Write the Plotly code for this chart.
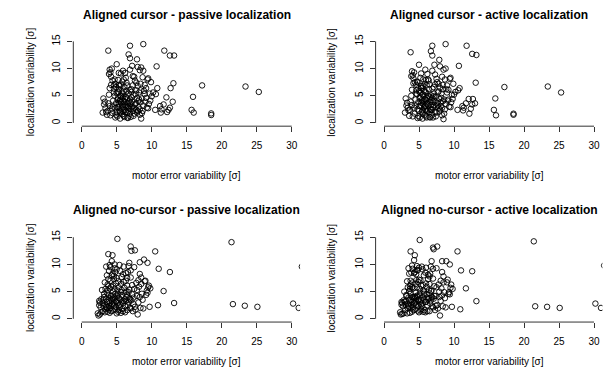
import plotly.graph_objects as go

# ---------------- data ----------------
# Aligned cursor: motor error variability (shared by passive & active panels)
cursor_motor = [
    3.8, 6.9, 8.8, 11.8, 12.6, 13.2, 10.7, 6.7, 6.9, 7.9,
    5.0, 13.1, 12.7, 10.8, 12.1, 13.0, 12.6, 12.4, 11.7, 11.4,
    11.3, 10.5, 11.2, 17.2, 15.9, 15.7, 16.0, 18.5, 18.5, 23.4,
    25.3, 12.2, 10.2, 10.6, 9.7, 9.5, 9.4, 9.0, 9.9, 8.5,
    8.0, 8.3, 7.2, 4.0, 4.3, 4.1, 3.9, 5.3, 5.6, 5.9,
    6.2, 6.9, 7.5, 8.8, 3.1, 3.2, 3.0, 3.4, 3.6, 3.3,
    3.7, 3.9, 4.0, 4.2, 4.4, 4.5, 4.6, 4.8, 4.9, 5.0,
    5.1, 5.2, 5.3, 5.4, 5.5, 5.5, 5.6, 5.7, 5.8, 5.9,
    6.0, 6.0, 6.1, 6.2, 6.3, 6.4, 6.5, 6.6, 6.7, 6.8,
    6.9, 7.0, 7.1, 7.2, 7.3, 7.4, 7.5, 7.6, 7.7, 7.8,
    7.9, 8.0, 8.1, 8.2, 8.3, 8.4, 8.5, 8.6, 8.7, 8.9,
    9.1, 9.2, 9.3, 9.6, 9.8, 10.0, 4.7, 5.2, 5.8, 6.3,
    5.0, 5.3, 5.5, 5.7, 5.9, 6.1, 6.3, 6.5, 6.7, 6.9,
    5.2, 5.4, 5.6, 5.8, 6.0, 6.2, 6.4, 6.6, 6.8, 7.0,
    4.5, 4.7, 4.9, 5.1, 5.3, 5.5, 5.7, 5.9, 6.1, 6.3,
    3.5, 3.8, 4.1, 4.3, 4.6, 4.8, 5.1, 5.4, 5.6, 5.9,
    6.5, 6.7, 6.9, 7.1, 7.3, 7.5, 7.7, 7.9, 8.1, 8.3,
    7.0, 7.2, 7.4, 7.6, 7.8, 8.0, 8.2, 8.4, 8.6, 8.8,
    4.0, 4.2, 4.4, 4.6, 4.9, 5.3, 6.0, 6.5, 7.3, 7.8,
    8.4, 8.7, 9.0, 9.2, 9.5, 4.8, 5.5, 6.1, 6.6, 7.1,
]
cursor_passive = [
    13.3, 14.2, 14.5, 13.3, 12.4, 12.4, 10.4, 12.6, 11.9, 11.7,
    10.8, 7.3, 6.4, 6.4, 4.7, 3.9, 2.8, 2.4, 3.4, 2.5,
    1.9, 2.4, 3.1, 6.9, 4.8, 2.4, 1.9, 1.75, 1.45, 6.7,
    5.7, 2.0, 5.6, 5.3, 5.4, 8.2, 8.0, 7.0, 7.5, 10.2,
    10.3, 9.7, 10.5, 9.8, 10.0, 9.3, 9.0, 9.2, 9.1, 9.6,
    9.2, 9.8, 8.5, 9.6, 4.5, 3.4, 1.9, 2.7, 1.5, 3.9,
    2.2, 5.2, 3.1, 7.0, 1.8, 4.1, 6.3, 2.7, 3.6, 5.5,
    1.2, 4.6, 3.0, 6.8, 2.1, 5.0, 3.8, 4.4, 1.6, 2.9,
    4.0, 5.9, 2.4, 3.3, 4.8, 7.4, 1.9, 3.7, 5.4, 2.6,
    4.3, 1.1, 6.2, 3.0, 2.2, 5.1, 1.7, 7.8, 3.5, 2.4,
    4.6, 6.8, 2.9, 5.6, 1.5, 3.8, 0.8, 4.5, 2.2, 5.9,
    3.9, 4.6, 2.8, 3.5, 4.1, 4.9, 8.0, 7.9, 7.6, 8.3,
    2.0, 3.5, 4.2, 2.6, 5.4, 3.8, 2.0, 4.5, 3.1, 6.0,
    5.7, 2.3, 4.9, 3.3, 1.3, 4.4, 5.8, 2.9, 4.0, 3.6,
    3.0, 5.0, 1.5, 4.3, 6.2, 1.9, 5.6, 4.7, 6.6, 3.0,
    2.0, 3.6, 1.4, 2.6, 5.6, 7.2, 2.9, 4.0, 7.0, 2.1,
    1.0, 2.2, 1.7, 4.7, 6.9, 2.8, 5.3, 1.9, 4.0, 2.5,
    2.6, 3.9, 1.3, 3.4, 6.0, 2.2, 4.3, 7.2, 1.8, 3.2,
    6.4, 8.5, 7.8, 6.9, 6.6, 7.0, 8.0, 6.9, 8.6, 7.4,
    6.0, 8.4, 5.3, 6.4, 2.7, 1.0, 0.8, 1.1, 0.9, 5.7,
]
cursor_active = [
    13.0, 14.2, 14.5, 14.2, 12.7, 12.5, 10.5, 13.2, 12.4, 11.6,
    10.7, 7.4, 4.4, 6.4, 4.4, 3.6, 3.4, 2.6, 3.6, 2.8,
    2.3, 2.4, 3.1, 6.6, 4.5, 2.4, 1.4, 1.7, 1.5, 6.7,
    5.6, 1.7, 5.7, 6.0, 5.2, 8.3, 8.1, 6.9, 7.2, 9.8,
    10.4, 8.5, 10.7, 9.5, 9.3, 8.8, 8.6, 9.1, 8.0, 9.8,
    9.0, 9.6, 8.1, 10.0, 4.5, 3.2, 1.9, 2.8, 1.3, 3.7,
    2.4, 5.0, 3.3, 7.3, 1.7, 4.3, 6.0, 2.5, 3.8, 5.8,
    1.0, 4.8, 3.2, 6.5, 2.3, 5.3, 3.5, 4.1, 1.5, 3.1,
    4.2, 5.6, 2.2, 3.5, 5.0, 7.8, 2.0, 3.9, 5.1, 2.4,
    4.6, 1.0, 6.6, 3.3, 2.0, 4.8, 1.9, 7.5, 3.2, 2.7,
    4.4, 6.5, 3.1, 5.4, 1.4, 4.0, 0.7, 4.3, 2.5, 6.2,
    4.1, 4.3, 3.0, 3.8, 4.4, 5.2, 7.6, 8.3, 7.2, 8.0,
    2.2, 3.7, 4.0, 2.8, 5.7, 3.6, 2.3, 4.7, 3.3, 6.3,
    5.5, 2.0, 5.2, 3.0, 1.2, 4.6, 6.2, 2.6, 4.3, 3.9,
    3.2, 5.3, 1.3, 4.5, 6.4, 1.7, 5.9, 4.4, 6.9, 3.2,
    2.3, 3.9, 1.2, 2.8, 5.4, 7.5, 3.1, 4.2, 6.8, 2.4,
    1.1, 2.4, 1.5, 4.9, 7.1, 3.0, 5.6, 2.1, 3.8, 2.8,
    2.9, 4.1, 1.2, 3.7, 5.8, 2.5, 4.6, 7.0, 1.7, 3.5,
    6.1, 8.2, 7.5, 7.0, 6.4, 6.8, 7.9, 7.1, 8.9, 7.2,
    6.2, 8.0, 5.6, 6.1, 2.9, 0.9, 0.8, 1.0, 1.0, 5.4,
]

# Aligned no-cursor: motor error variability (shared by passive & active panels)
nocursor_motor = [
    5.1, 7.0, 7.1, 7.6, 3.8, 4.4, 4.3, 10.5, 8.9, 9.4,
    8.3, 6.8, 11.0, 12.6, 8.3, 11.7, 13.2, 10.9, 9.7, 8.0,
    21.4, 21.6, 23.3, 25.1, 30.2, 31.0, 31.45, 2.6, 2.4, 2.5,
    9.1, 9.0, 9.3, 9.2, 9.5, 9.8, 9.4, 8.7, 8.5, 9.6,
    2.3, 2.5, 2.7, 2.8, 3.0, 2.9, 2.6, 3.1, 2.8, 3.2,
    3.3, 3.4, 3.5, 3.6, 3.7, 3.8, 3.9, 4.0, 4.1, 4.2,
    4.3, 4.4, 4.5, 4.6, 4.7, 4.8, 4.9, 5.0, 5.1, 5.2,
    5.3, 5.4, 5.5, 5.6, 5.7, 5.8, 5.9, 6.0, 6.1, 6.2,
    6.3, 6.4, 6.5, 6.6, 6.7, 6.8, 6.9, 7.0, 7.2, 7.4,
    7.5, 7.7, 7.9, 8.1, 8.2, 8.4, 8.6, 8.8, 7.8, 7.3,
    3.5, 3.7, 3.9, 4.1, 4.3, 4.5, 4.7, 4.9, 5.1, 5.3,
    3.4, 3.6, 3.8, 4.0, 4.2, 4.4, 4.6, 4.8, 5.0, 5.2,
    5.4, 5.6, 5.8, 6.0, 6.2, 6.4, 6.6, 6.8, 7.0, 7.2,
    3.0, 3.2, 3.4, 3.6, 3.8, 4.0, 4.2, 4.4, 4.6, 4.8,
    5.0, 5.2, 5.5, 5.7, 6.0, 6.3, 6.5, 6.7, 7.0, 7.5,
    3.9, 4.1, 4.4, 4.7, 5.0, 5.3, 5.6, 5.9, 6.2, 6.5,
    3.1, 3.3, 3.5, 3.7, 3.9, 4.1, 4.3, 4.5, 4.7, 4.9,
    5.1, 5.3, 5.5, 5.7, 5.9, 6.1, 6.3, 6.5, 6.7, 6.9,
    7.1, 7.4, 7.6, 7.9, 8.1, 8.3, 8.5, 3.6, 4.0, 4.6,
]
nocursor_passive = [
    14.7, 13.3, 12.5, 12.6, 11.9, 11.7, 10.6, 12.4, 10.9, 10.3,
    10.4, 10.3, 9.2, 8.6, 8.25, 5.1, 2.9, 2.5, 2.2, 0.8,
    14.1, 2.7, 2.4, 2.2, 2.8, 2.0, 9.6, 0.8, 0.6, 2.5,
    7.0, 6.9, 5.2, 4.4, 5.8, 5.6, 4.8, 3.5, 7.6, 6.1,
    1.0, 3.3, 2.1, 3.6, 1.4, 5.3, 3.0, 2.4, 1.2, 4.0,
    6.7, 2.5, 9.6, 4.8, 1.3, 7.3, 3.2, 5.6, 2.0, 4.2,
    8.0, 1.5, 6.1, 3.0, 9.3, 4.6, 2.2, 7.5, 5.2, 1.3,
    3.8, 9.9, 2.6, 6.4, 4.3, 1.8, 8.2, 3.3, 5.7, 2.3,
    7.0, 4.0, 1.6, 8.6, 3.1, 5.4, 2.0, 7.6, 4.5, 2.7,
    5.5, 1.7, 4.2, 3.0, 5.9, 2.0, 4.6, 1.9, 6.6, 1.4,
    3.6, 5.2, 2.4, 7.0, 3.5, 5.0, 3.9, 6.5, 2.8, 5.8,
    1.8, 3.1, 4.4, 1.1, 5.9, 2.6, 7.3, 1.7, 3.4, 4.5,
    2.1, 4.9, 3.2, 6.8, 1.2, 5.0, 2.5, 3.8, 1.9, 6.2,
    2.9, 4.6, 5.5, 2.0, 6.0, 3.8, 1.4, 4.3, 2.4, 8.6,
    9.1, 6.9, 8.8, 7.7, 9.6, 8.4, 7.5, 9.7, 8.9, 9.5,
    8.8, 9.5, 8.3, 10.0, 1.0, 1.6, 1.1, 1.4, 3.6, 4.4,
    3.5, 1.2, 2.2, 6.3, 1.7, 3.0, 2.7, 3.7, 5.5, 3.2,
    4.1, 2.4, 3.6, 5.3, 2.9, 4.8, 3.3, 6.1, 4.9, 3.6,
    3.4, 3.9, 2.2, 5.3, 7.1, 4.0, 6.4, 8.0, 9.9, 7.9,
]
nocursor_active = [
    14.5, 13.1, 12.8, 13.3, 12.4, 11.7, 10.8, 12.4, 10.6, 10.0,
    10.6, 10.6, 8.9, 8.75, 8.6, 5.6, 3.25, 1.75, 2.2, 0.6,
    14.25, 2.3, 2.2, 2.0, 2.8, 2.0, 9.8, 0.9, 0.8, 2.6,
    7.2, 6.7, 4.9, 4.6, 5.7, 5.5, 4.5, 3.8, 7.8, 6.3,
    1.2, 3.1, 2.3, 3.4, 1.6, 5.0, 2.9, 2.6, 1.0, 4.2,
    6.9, 2.7, 9.3, 5.1, 1.1, 7.0, 3.5, 5.8, 2.2, 4.0,
    8.4, 1.7, 6.4, 3.2, 9.0, 4.3, 2.4, 7.2, 5.5, 1.5,
    3.5, 9.6, 2.9, 6.2, 4.6, 1.6, 8.5, 3.1, 5.9, 2.5,
    7.3, 3.8, 1.4, 8.3, 3.4, 5.2, 2.3, 7.4, 4.2, 2.4,
    5.8, 1.9, 4.0, 3.3, 5.6, 2.3, 4.9, 2.1, 6.3, 1.6,
    3.9, 5.5, 2.6, 6.7, 3.7, 4.8, 4.1, 6.8, 3.0, 6.1,
    2.0, 3.4, 4.7, 1.3, 5.6, 2.8, 7.1, 1.5, 3.6, 4.8,
    2.3, 5.2, 3.5, 6.5, 1.4, 5.3, 2.8, 4.0, 2.1, 6.0,
    3.1, 4.4, 5.8, 2.2, 6.3, 4.0, 1.6, 4.1, 2.6, 8.9,
    9.4, 7.1, 9.1, 8.0, 9.4, 8.1, 7.8, 9.6, 9.2, 9.3,
    8.5, 9.2, 8.6, 9.7, 1.2, 1.8, 1.3, 1.2, 3.9, 4.7,
    3.3, 1.0, 2.4, 6.0, 1.9, 3.2, 2.9, 3.9, 5.8, 3.4,
    4.3, 2.6, 3.9, 5.0, 3.1, 4.5, 3.6, 6.4, 5.1, 3.9,
    3.7, 4.2, 2.5, 5.0, 7.0, 4.3, 6.7, 8.3, 9.8, 8.2,
]

panel_titles = [
    "Aligned cursor - passive localization",
    "Aligned cursor - active localization",
    "Aligned no-cursor - passive localization",
    "Aligned no-cursor - active localization",
]
x_label = "motor error variability [σ]"
y_label = "localization variability [σ]"
x_ticks = [0, 5, 10, 15, 20, 25, 30]
y_ticks = [0, 5, 10, 15]

panels = [
    (cursor_motor, cursor_passive),
    (cursor_motor, cursor_active),
    (nocursor_motor, nocursor_passive),
    (nocursor_motor, nocursor_active),
]

# ---------------- layout geometry (pixels) ----------------
W, H = 615, 373
x_dom = [(73.3, 300.1), (375.6, 602.4)]          # left/right columns
y_dom = [(34.5, 123.5), (232.5, 321.5)]          # top/bottom rows (from top)
main_title_y = [10.8, 208.3]
x_title_y = [173.0, 361.0]
y_title_x = [30.0, 331.5]

FONT = "Liberation Sans, Arial, Helvetica, sans-serif"
LINE = "#333333"

fig = go.Figure()
layout = dict(
    width=W, height=H,
    margin=dict(l=0, r=0, t=0, b=0),
    paper_bgcolor="white", plot_bgcolor="white",
    showlegend=False,
    font=dict(family=FONT, size=10, color="black"),
    annotations=[], shapes=[],
)

for i, (xs, ys) in enumerate(panels):
    r, c = divmod(i, 2)
    n = i + 1
    xa = "x" if n == 1 else f"x{n}"
    ya = "y" if n == 1 else f"y{n}"
    fig.add_trace(go.Scatter(
        x=xs, y=ys, mode="markers", xaxis=xa, yaxis=ya,
        marker=dict(symbol="circle-open", size=5.5, color="black",
                    line=dict(width=0.9, color="black")),
        cliponaxis=True, hoverinfo="skip",
    ))
    x0, x1 = x_dom[c]
    top, bot = y_dom[r]
    layout["xaxis" if n == 1 else f"xaxis{n}"] = dict(
        domain=[x0 / W, x1 / W], range=[-1.2, 31.2], anchor=ya,
        tickvals=x_ticks, ticks="outside", ticklen=5, tickwidth=1,
        tickcolor=LINE, showline=False, showgrid=False, zeroline=False,
        tickfont=dict(size=10, color="black"), ticklabelstandoff=5,
    )
    layout["yaxis" if n == 1 else f"yaxis{n}"] = dict(
        domain=[1 - bot / H, 1 - top / H], range=[-0.6, 15.6], anchor=xa,
        tickvals=y_ticks, ticks="outside", ticklen=5, tickwidth=1,
        tickcolor=LINE, showline=False, showgrid=False, zeroline=False,
        tickangle=-90, tickfont=dict(size=10, color="black"),
        ticklabelstandoff=3,
    )
    # axis lines spanning only the tick range (base-R style)
    layout["shapes"].append(dict(
        type="line", xref=xa, yref=f"{ya} domain",
        x0=x_ticks[0], x1=x_ticks[-1], y0=0, y1=0,
        line=dict(color=LINE, width=1)))
    layout["shapes"].append(dict(
        type="line", xref=f"{xa} domain", yref=ya,
        x0=0, x1=0, y0=y_ticks[0], y1=y_ticks[-1],
        line=dict(color=LINE, width=1)))
    cx = (x0 + x1) / 2 / W
    layout["annotations"].append(dict(
        text=f"<b>{panel_titles[i]}</b>", xref="paper", yref="paper",
        x=cx, y=1 - main_title_y[r] / H, xanchor="center", yanchor="middle",
        showarrow=False, font=dict(size=12, color="black")))
    layout["annotations"].append(dict(
        text=x_label, xref="paper", yref="paper",
        x=cx, y=1 - x_title_y[r] / H, xanchor="center", yanchor="middle",
        showarrow=False, font=dict(size=10, color="black")))
    layout["annotations"].append(dict(
        text=y_label, xref="paper", yref="paper", textangle=-90,
        x=y_title_x[c] / W, y=1 - (top + bot) / 2 / H,
        xanchor="center", yanchor="middle",
        showarrow=False, font=dict(size=10, color="black")))

fig.update_layout(**layout)
fig.write_html(
    "out.html",
    config={"displayModeBar": False, "staticPlot": True},
    post_script="document.body.style.margin='0';document.body.style.overflow='hidden';",
)
